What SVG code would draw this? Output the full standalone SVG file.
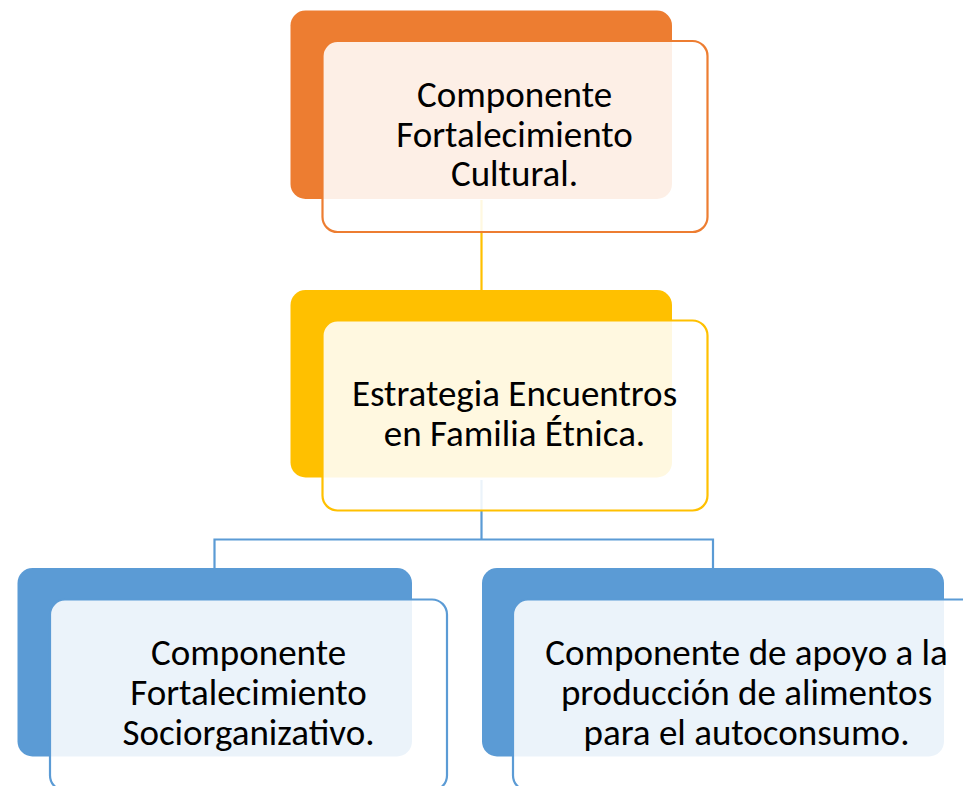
<svg xmlns="http://www.w3.org/2000/svg" width="963" height="786" viewBox="0 0 963 786">
<style>
.back{stroke:none}
.front{fill:#ffffff;fill-opacity:0.88;stroke-width:2.2}
.o .back{fill:#ED7D31}.o .front{stroke:#ED7D31}
.y .back{fill:#FFC000}.y .front{stroke:#FFC000}
.b .back{fill:#5B9BD5}.b .front{stroke:#5B9BD5}
text{font-family:Carlito,Calibri,Lato,"Open Sans",sans-serif;font-size:37px;fill:#000;text-anchor:middle}
.conn{fill:none;stroke-width:2.2}
</style>
<rect width="963" height="786" fill="#ffffff"/>
<g id="connectors">
<path class="conn" stroke="#FFC000" d="M481.5,200 V290"/>
<path class="conn" stroke="#5B9BD5" d="M481.5,480 V539.5 M214.5,568 V539.5 H713 V568"/>
</g>
<g id="node-cultural" class="o">
<rect class="back" x="290.5" y="10.5" width="381.5" height="188.5" rx="15"/>
<rect class="front" x="322.5" y="41" width="385" height="191" rx="15"/>
<text x="514.5" y="107">Componente</text>
<text x="514.5" y="147">Fortalecimiento</text>
<text x="514.5" y="186">Cultural.</text>
</g>
<g id="node-estrategia" class="y">
<rect class="back" x="290.5" y="290" width="381.5" height="187.5" rx="15"/>
<rect class="front" x="322.5" y="320.5" width="385" height="190" rx="15"/>
<text x="514.5" y="406">Estrategia Encuentros</text>
<text x="514.5" y="446">en Familia Étnica.</text>
</g>
<g id="node-socio" class="b">
<rect class="back" x="17.5" y="568" width="394.5" height="188.5" rx="15"/>
<rect class="front" x="50" y="599.5" width="397" height="191" rx="15"/>
<text x="248.5" y="665">Componente</text>
<text x="248.5" y="705">Fortalecimiento</text>
<text x="248.5" y="745">Sociorganizativo.</text>
</g>
<g id="node-produccion" class="b">
<rect class="back" x="482" y="568" width="462" height="188.5" rx="15"/>
<rect class="front" x="513" y="599.5" width="467" height="191" rx="15"/>
<text x="746.5" y="665">Componente de apoyo a la</text>
<text x="746.5" y="705">producción de alimentos</text>
<text x="746.5" y="745">para el autoconsumo.</text>
</g>
</svg>
